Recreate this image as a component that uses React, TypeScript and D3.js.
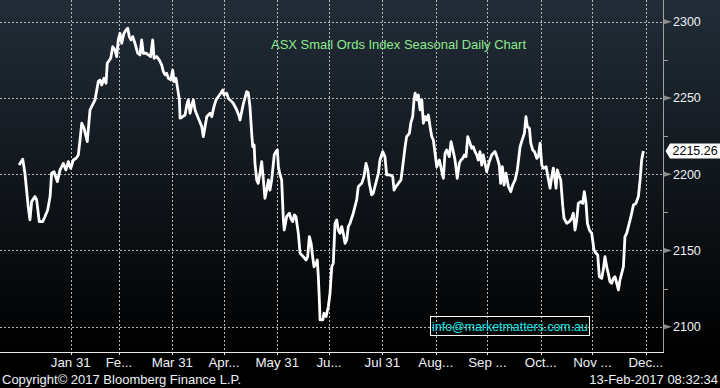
import React, { useEffect, useRef } from "react";
import * as d3 from "d3";

// seasonal index level by day of year (0 = Jan 1)
const seasonal: [number, number][] = [
  [0, 2206.0], [2.1, 2209.8], [3.4, 2200.6], [5.3, 2178.7], [6.3, 2170.0], [7.3, 2182.0], [9.2, 2185.3], [10.2, 2183.1], [11.7, 2168.9], [13.7, 2168.9], [15.0, 2172.1], [16.6, 2176.5], [18.0, 2185.3], [18.9, 2200.6], [20.3, 2201.6], [22.2, 2195.1], [23.8, 2202.8], [25.7, 2207.1], [27.2, 2202.8], [28.6, 2208.2], [30.0, 2203.9],
  [31.5, 2209.3], [33.1, 2210.4], [34.4, 2212.6], [35.4, 2222.4], [36.4, 2233.4], [37.7, 2230.3], [39.6, 2221.3], [41.2, 2242.1], [44.1, 2248.7], [46.0, 2260.7], [47.0, 2261.8], [48.0, 2258.5], [49.3, 2262.9], [50.5, 2259.6], [51.2, 2272.7], [53.2, 2276.0], [54.4, 2283.6], [55.7, 2281.4], [56.7, 2277.1], [57.6, 2288.0],
  [58.6, 2292.4], [59.6, 2285.8], [60.9, 2292.4], [62.1, 2294.6], [63.1, 2295.7], [64.0, 2290.2], [65.0, 2288.0], [66.0, 2290.2], [67.3, 2285.8], [68.9, 2279.3], [70.2, 2278.2], [71.2, 2288.0], [72.1, 2279.3], [73.7, 2279.3], [75.1, 2278.2], [76.4, 2277.1], [77.6, 2288.0], [78.4, 2276.0], [79.9, 2277.1], [81.4, 2274.9], [82.8, 2271.6], [83.8, 2267.2], [84.8, 2265.1], [85.7, 2266.2], [86.7, 2262.9], [88.1, 2261.8], [89.2, 2268.3],
  [90.0, 2260.7], [91.1, 2262.9], [91.9, 2257.4], [93.1, 2248.7], [93.5, 2236.7], [95.0, 2237.7], [96.4, 2238.8], [97.4, 2245.4], [98.3, 2248.7], [99.3, 2239.9], [100.3, 2245.4], [101.2, 2248.7], [102.2, 2242.1], [104.1, 2236.7], [106.1, 2231.2], [107.0, 2224.6], [109.0, 2237.7], [110.9, 2239.9], [111.9, 2237.7], [113.2, 2244.3], [114.4, 2248.7], [115.7, 2250.8], [117.1, 2253.1], [118.3, 2255.2], [119.0, 2251.9],
  [120.6, 2253.1], [121.5, 2249.8], [122.5, 2248.7], [124.4, 2246.5], [126.4, 2242.1], [127.9, 2237.7], [128.3, 2235.5], [130.1, 2245.4], [132.2, 2254.1], [133.1, 2253.4], [134.1, 2244.3], [135.1, 2226.8], [135.7, 2218.0], [136.5, 2219.2], [137.0, 2207.1], [138.0, 2196.2], [138.9, 2194.0], [139.9, 2200.6], [140.9, 2208.2], [141.9, 2196.2], [142.8, 2184.2], [143.8, 2189.6], [144.8, 2196.2], [145.7, 2189.6], [146.7, 2196.2], [147.7, 2207.1], [148.2, 2212.6], [149.2, 2214.8], [150.0, 2215.9],
  [150.6, 2204.9], [151.6, 2199.5], [152.5, 2196.2], [153.5, 2170.0], [154.0, 2163.4], [155.4, 2172.1], [157.0, 2174.4], [157.8, 2171.1], [158.9, 2168.9], [159.9, 2173.3], [160.8, 2172.1], [162.2, 2161.2], [163.2, 2148.1], [165.1, 2145.9], [166.7, 2143.7], [167.6, 2145.9], [168.6, 2159.0], [169.6, 2154.7], [170.5, 2145.9], [171.3, 2139.3], [172.5, 2141.6], [173.2, 2143.7], [173.8, 2132.8], [174.4, 2117.5], [174.8, 2104.4], [176.4, 2104.4], [177.1, 2108.8], [178.3, 2106.6], [179.6, 2113.1],
  [180.6, 2121.9], [181.6, 2139.3], [182.5, 2141.6], [183.5, 2167.8], [184.5, 2170.0], [185.4, 2163.4], [186.4, 2161.2], [187.4, 2165.6], [188.3, 2161.2], [189.3, 2154.7], [190.3, 2156.9], [191.2, 2165.6], [192.2, 2167.8], [194.1, 2174.4], [196.1, 2183.1], [197.0, 2191.8], [199.0, 2194.0], [200.3, 2198.4], [201.5, 2207.1], [202.5, 2202.8], [203.4, 2194.0], [204.8, 2186.4], [205.7, 2187.5], [207.7, 2196.2], [208.7, 2200.6], [209.6, 2209.3],
  [211.2, 2214.8], [212.5, 2211.5], [213.5, 2199.5], [215.4, 2199.5], [217.0, 2198.4], [217.8, 2189.6], [218.9, 2191.8], [220.3, 2194.0], [221.8, 2196.2], [222.8, 2204.9], [224.2, 2218.0], [225.1, 2224.6], [226.7, 2226.8], [227.5, 2233.4], [228.6, 2237.7], [229.4, 2248.7], [230.0, 2253.1], [231.0, 2248.7], [231.9, 2251.9], [232.9, 2242.1], [233.9, 2248.7], [234.8, 2233.4], [235.8, 2237.7], [236.8, 2235.5], [237.7, 2238.8], [238.7, 2231.2], [239.7, 2224.6], [240.6, 2222.4], [241.6, 2213.7],
  [242.6, 2204.9], [244.1, 2209.3], [246.4, 2197.3], [247.4, 2213.7], [248.4, 2215.9], [249.9, 2211.5], [250.9, 2221.3], [252.2, 2214.8], [253.2, 2209.3], [254.5, 2197.3], [255.7, 2207.1], [256.7, 2209.3], [257.7, 2210.4], [258.6, 2212.6], [259.6, 2211.5], [260.6, 2224.6], [261.9, 2220.3], [262.9, 2217.0], [263.8, 2218.0], [264.8, 2214.8], [265.8, 2212.6], [266.7, 2209.3], [267.7, 2214.8], [268.7, 2206.0], [269.6, 2212.6], [270.6, 2207.1], [271.6, 2201.6],
  [273.1, 2208.2], [274.5, 2212.6], [276.4, 2214.8], [277.8, 2210.4], [278.9, 2206.0], [279.7, 2194.0], [280.7, 2204.9], [281.7, 2192.9], [282.8, 2200.6], [284.2, 2191.8], [285.6, 2188.5], [286.7, 2192.9], [288.1, 2196.2], [289.4, 2202.8], [291.0, 2218.0], [292.5, 2223.5], [293.5, 2226.8], [294.4, 2237.7], [295.2, 2231.2], [296.4, 2230.1], [297.2, 2220.3], [298.3, 2215.9], [299.3, 2214.8], [300.7, 2210.4], [301.6, 2211.5], [302.6, 2220.3],
  [303.6, 2206.0], [304.5, 2203.9], [306.1, 2204.9], [306.8, 2200.6], [308.4, 2190.8], [309.4, 2198.4], [310.3, 2203.9], [311.3, 2196.2], [311.9, 2190.8], [312.6, 2202.8], [313.8, 2198.4], [314.6, 2196.2], [315.8, 2178.7], [316.5, 2171.1], [318.1, 2167.8], [319.6, 2168.9], [321.0, 2171.1], [321.9, 2174.4], [322.9, 2163.4], [323.9, 2170.0], [324.8, 2180.9], [326.2, 2182.0], [327.4, 2180.9], [328.3, 2188.5], [329.3, 2180.9], [330.1, 2167.8], [331.2, 2163.4], [332.6, 2161.2],
  [333.9, 2150.3], [335.1, 2148.1], [336.1, 2147.0], [337.0, 2132.8], [338.4, 2131.7], [339.3, 2137.2], [340.3, 2145.9], [341.3, 2139.3], [342.2, 2135.0], [343.2, 2129.5], [344.2, 2128.5], [345.2, 2131.7], [346.1, 2132.8], [347.1, 2128.5], [348.1, 2124.1], [349.0, 2130.6], [350.0, 2135.0], [351.0, 2139.3], [351.9, 2159.0], [352.9, 2161.2], [353.9, 2165.6], [354.9, 2170.0], [355.8, 2174.4], [356.8, 2179.8], [358.3, 2180.9], [359.7, 2185.3], [360.7, 2196.2], [361.6, 2209.3], [362.6, 2215.26],
];

// month-end days and their (truncated) Bloomberg labels
const monthEnds = [30, 58, 89, 119, 150, 180, 211, 242, 272, 303, 333, 364];
const monthLabels = ["Jan 31", "Fe...", "Mar 31", "Apr...", "May 31", "Ju...", "Jul 31", "Aug...", "Sep ...", "Oct...", "Nov ...", "Dec..."];

const majorTicks = [2100, 2150, 2200, 2250, 2300];
const minorTicks = [2125, 2175, 2225, 2275];

const lastValue = 2215.26;

export default function App() {
  const ref = useRef<SVGSVGElement>(null);

  useEffect(() => {
    const width = 720;
    const height = 388;
    const plotW = 663;
    const plotH = 352;
    const font = "'Liberation Sans', Arial, sans-serif";

    const svg = d3.select(ref.current);
    svg.selectAll("*").remove();

    // background
    const grad = svg
      .append("defs")
      .append("linearGradient")
      .attr("id", "bg")
      .attr("gradientUnits", "userSpaceOnUse")
      .attr("x1", 0)
      .attr("y1", 0)
      .attr("x2", 0)
      .attr("y2", plotH);
    grad.append("stop").attr("offset", 0).attr("stop-color", "#222d38");
    grad.append("stop").attr("offset", 1).attr("stop-color", "#000000");
    svg.append("rect").attr("width", width).attr("height", height).attr("fill", "#000");
    svg.append("rect").attr("width", width).attr("height", plotH).attr("fill", "url(#bg)");

    let x = d3.scaleLinear().domain([-11.09, 374.0]).range([0, plotW]);
    let y = d3.scaleLinear().domain([2083.4, 2314.2]).range([plotH, 0]);

    // grid
    svg
      .append("g")
      .selectAll("line")
      .data(majorTicks)
      .enter()
      .append("line")
      .attr("x1", 0)
      .attr("x2", plotW)
      .attr("y1", (d) => Math.round(y(d)) + 0.5)
      .attr("y2", (d) => Math.round(y(d)) + 0.5)
      .attr("stroke", "#b8b8b8")
      .attr("stroke-dasharray", "2,2");
    svg
      .append("g")
      .selectAll("line")
      .data(monthEnds)
      .enter()
      .append("line")
      .attr("x1", (d) => Math.round(x(d)) + 0.5)
      .attr("x2", (d) => Math.round(x(d)) + 0.5)
      .attr("y1", 0)
      .attr("y2", plotH)
      .attr("stroke", "#b8b8b8")
      .attr("stroke-dasharray", "2,2");

    // axes frame
    svg
      .append("line")
      .attr("x1", plotW + 0.5)
      .attr("x2", plotW + 0.5)
      .attr("y1", 0)
      .attr("y2", plotH)
      .attr("stroke", "#a0a0a0");
    svg
      .append("line")
      .attr("x1", 0)
      .attr("x2", plotW + 1)
      .attr("y1", plotH + 0.5)
      .attr("y2", plotH + 0.5)
      .attr("stroke", "#e8e8e8");

    // right axis ticks
    svg
      .append("g")
      .selectAll("path")
      .data(majorTicks)
      .enter()
      .append("path")
      .attr("d", (d) => {
        let yy = y(d);
        return `M${plotW + 1},${yy - 2.5}L${plotW + 9},${yy}L${plotW + 1},${yy + 2.5}Z`;
      })
      .attr("fill", "#8c8c8c");
    svg
      .append("g")
      .selectAll("line")
      .data(minorTicks)
      .enter()
      .append("line")
      .attr("x1", plotW)
      .attr("x2", plotW + 5)
      .attr("y1", (d) => Math.round(y(d)) + 0.5)
      .attr("y2", (d) => Math.round(y(d)) + 0.5)
      .attr("stroke", "#a0a0a0");
    svg
      .append("g")
      .selectAll("text")
      .data(majorTicks)
      .enter()
      .append("text")
      .attr("x", plotW + 10)
      .attr("y", (d) => y(d) + 4.5)
      .attr("fill", "#eef2f6")
      .style("font-family", font)
      .style("font-size", "12.5px")
      .text((d) => d);

    // bottom axis
    svg
      .append("g")
      .selectAll("line")
      .data(monthEnds)
      .enter()
      .append("line")
      .attr("x1", (d) => Math.round(x(d)) + 0.5)
      .attr("x2", (d) => Math.round(x(d)) + 0.5)
      .attr("y1", plotH)
      .attr("y2", plotH + 3)
      .attr("stroke", "#e8e8e8");
    svg
      .append("g")
      .selectAll("text")
      .data(monthEnds)
      .enter()
      .append("text")
      .attr("x", (d) => x(d))
      .attr("y", 367)
      .attr("text-anchor", "middle")
      .attr("fill", "#eef2f6")
      .style("font-family", font)
      .style("font-size", "13.3px")
      .text((d, i) => monthLabels[i]);

    // series
    let line = d3
      .line<[number, number]>()
      .x((d) => x(d[0]))
      .y((d) => y(d[1]));
    svg
      .append("path")
      .datum(seasonal)
      .attr("d", line)
      .attr("fill", "none")
      .attr("stroke", "#ffffff")
      .attr("stroke-width", 2.8)
      .attr("stroke-linejoin", "round");

    // last value tag
    let ly = y(lastValue);
    svg
      .append("path")
      .attr("d", `M${plotW + 2.5},${ly}L${plotW + 7},${ly - 7.5}H${width}V${ly + 7.5}H${plotW + 7}Z`)
      .attr("fill", "#ffffff");
    svg
      .append("text")
      .attr("x", plotW + 9.5)
      .attr("y", ly + 4.5)
      .attr("fill", "#000")
      .style("font-family", font)
      .style("font-size", "12.5px")
      .text(lastValue.toFixed(2));

    // title
    svg
      .append("text")
      .attr("x", 398.5)
      .attr("y", 49)
      .attr("text-anchor", "middle")
      .attr("fill", "#8fe98f")
      .style("font-family", font)
      .style("font-size", "13px")
      .text("ASX Small Ords Index Seasonal Daily Chart");

    // contact box
    svg
      .append("rect")
      .attr("x", 430.5)
      .attr("y", 316.5)
      .attr("width", 159)
      .attr("height", 19)
      .attr("fill", "none")
      .attr("stroke", "#ffffff");
    svg
      .append("text")
      .attr("x", 510)
      .attr("y", 330.5)
      .attr("text-anchor", "middle")
      .attr("fill", "#19e6e6")
      .style("font-family", font)
      .style("font-size", "12.4px")
      .text("info@marketmatters.com.au");

    // footer
    svg
      .append("text")
      .attr("x", 2)
      .attr("y", 384)
      .attr("fill", "#eef2f6")
      .style("font-family", font)
      .style("font-size", "13px")
      .text("Copyright\u00a9 2017 Bloomberg Finance L.P.");
    svg
      .append("text")
      .attr("x", 718)
      .attr("y", 384)
      .attr("text-anchor", "end")
      .attr("fill", "#eef2f6")
      .style("font-family", font)
      .style("font-size", "13px")
      .text("13-Feb-2017 08:32:34");
  }, []);

  return (
    <svg
      ref={ref}
      width={720}
      height={388}
      style={{ position: "absolute", left: 0, top: 0, display: "block" }}
    />
  );
}
